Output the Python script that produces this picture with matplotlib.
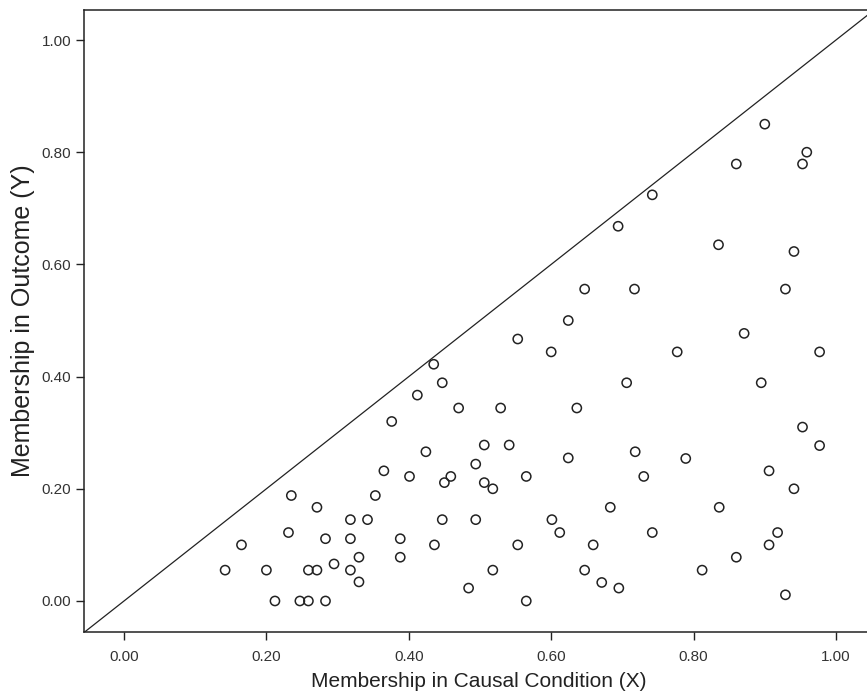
import matplotlib
matplotlib.use("Agg")
import matplotlib.pyplot as plt

plt.rcParams['font.family'] = ['Liberation Sans', 'DejaVu Sans']

# Membership in causal condition (X) and outcome (Y) for each case
x_vals = [
    0.376, 0.365, 0.235, 0.353, 0.271, 0.318, 0.342, 0.231, 0.283, 0.318,
    0.388, 0.165, 0.330, 0.388, 0.295, 0.142, 0.200, 0.259, 0.271, 0.318,
    0.330, 0.212, 0.247, 0.259, 0.283,
    0.424, 0.506, 0.541, 0.494, 0.401, 0.459, 0.450, 0.506, 0.518, 0.565,
    0.624, 0.718, 0.730, 0.683, 0.447, 0.494, 0.601, 0.612, 0.742, 0.436,
    0.553, 0.659, 0.518, 0.647, 0.484, 0.671, 0.695, 0.565,
    0.953, 0.977, 0.789, 0.906, 0.941, 0.836, 0.918, 0.906, 0.860, 0.812,
    0.929,
    0.900, 0.860, 0.959, 0.953, 0.742,
    0.694, 0.647, 0.717, 0.624, 0.553, 0.600, 0.435, 0.447, 0.706, 0.412,
    0.470, 0.529, 0.636,
    0.835, 0.941, 0.929, 0.871, 0.777, 0.977, 0.895,
]
y_vals = [
    0.320, 0.232, 0.188, 0.188, 0.167, 0.145, 0.145, 0.122, 0.111, 0.111,
    0.111, 0.100, 0.078, 0.078, 0.066, 0.055, 0.055, 0.055, 0.055, 0.055,
    0.034, 0.000, 0.000, 0.000, 0.000,
    0.266, 0.278, 0.278, 0.244, 0.222, 0.222, 0.211, 0.211, 0.200, 0.222,
    0.255, 0.266, 0.222, 0.167, 0.145, 0.145, 0.145, 0.122, 0.122, 0.100,
    0.100, 0.100, 0.055, 0.055, 0.023, 0.033, 0.023, 0.000,
    0.310, 0.277, 0.254, 0.232, 0.200, 0.167, 0.122, 0.100, 0.078, 0.055,
    0.011,
    0.850, 0.779, 0.800, 0.779, 0.724,
    0.668, 0.556, 0.556, 0.500, 0.467, 0.444, 0.422, 0.389, 0.389, 0.367,
    0.344, 0.344, 0.344,
    0.635, 0.623, 0.556, 0.477, 0.444, 0.444, 0.389,
]

ticks = [0.0, 0.2, 0.4, 0.6, 0.8, 1.0]
tick_labels = ["0.00", "0.20", "0.40", "0.60", "0.80", "1.00"]
diag = [-0.1, 1.1]

W, H = 867, 698
fig = plt.figure(figsize=(W / 100, H / 100), dpi=100)
ax = fig.add_axes([84 / W, 66 / H, (873 - 84) / W, 622 / H])

ax.plot(diag, diag, color='#222222', lw=0.9, zorder=1)
ax.scatter(x_vals, y_vals, s=44, facecolors='none', edgecolors='#222222',
           linewidths=1.1, zorder=2)

ax.set_xlim(-0.0562, 1.052)
ax.set_ylim(-0.0553, 1.0535)

ax.set_xticks(ticks)
ax.set_xticklabels(tick_labels)
ax.set_yticks(ticks)
ax.set_yticklabels(tick_labels)

ax.tick_params(axis='both', direction='out', length=6, width=1.0,
               colors='#222222', labelsize=11, labelcolor='#333333')
ax.tick_params(axis='x', pad=7)
ax.tick_params(axis='y', pad=3)

for side in ['left', 'bottom', 'top']:
    ax.spines[side].set_linewidth(1.1)
    ax.spines[side].set_color('#222222')
ax.spines['right'].set_visible(False)

ax.set_xlabel("Membership in Causal Condition (X)", fontsize=15,
              color='#222222', labelpad=6)
ax.set_ylabel("Membership in Outcome (Y)", fontsize=18,
              color='#222222', labelpad=5)

fig.savefig("out.png", dpi=100)
